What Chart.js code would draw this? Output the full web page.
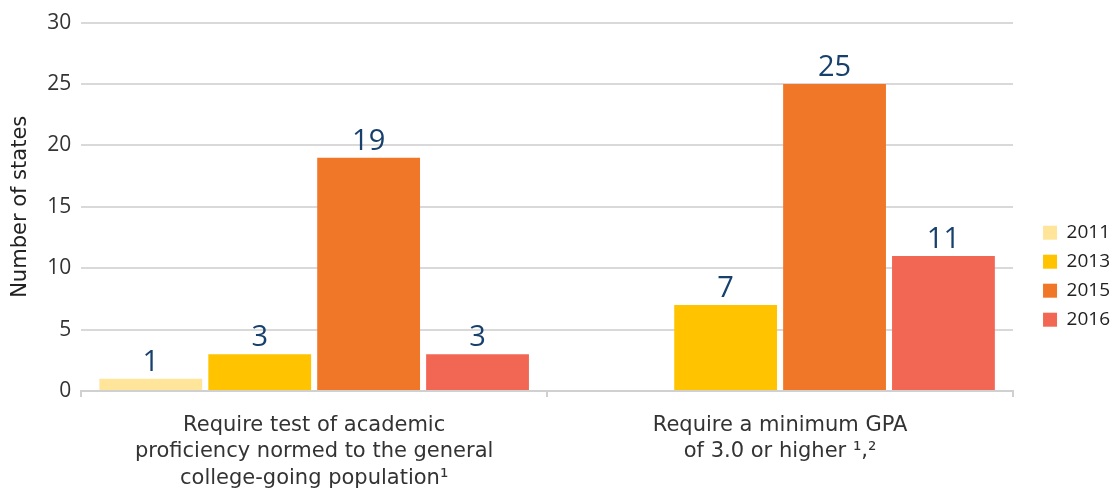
<!DOCTYPE html>
<html>
<head>
<meta charset="utf-8">
<script src="https://cdn.jsdelivr.net/npm/chart.js@4"></script>
<style>
  html, body { margin: 0; padding: 0; background: #fff; }
  #wrap { width: 1120px; height: 492px; }
</style>
</head>
<body>
<div id="wrap"><canvas id="bar-chart"></canvas></div>
<script>
var categories = [
    ['Require test of academic', 'proficiency normed to the general', 'college-going population\u00b9'],
    ['Require a minimum GPA', 'of 3.0 or higher \u00b9,\u00b2']
];
var years = ['2011', '2013', '2015', '2016'];
var values2011 = [1, null];
var values2013 = [3, 7];
var values2015 = [19, 25];
var values2016 = [3, 11];
var yMin = 0, yMax = 30, yStep = 5;

var colors = ['#fee59a', '#ffc300', '#ef7727', '#f26654'];

Chart.defaults.font.family = '"Open Sans", sans-serif';

// numbers above each bar
var valueLabels = {
    id: 'valueLabels',
    afterDatasetsDraw: function(chart) {
        var ctx = chart.ctx;
        ctx.save();
        ctx.fillStyle = '#17406d';
        ctx.font = '29px "Open Sans", sans-serif';
        ctx.textAlign = 'center';
        ctx.textBaseline = 'alphabetic';
        chart.data.datasets.forEach(function(ds, i) {
            chart.getDatasetMeta(i).data.forEach(function(bar, j) {
                if (ds.data[j] == null) return;
                ctx.fillText(ds.data[j], bar.x, bar.y - 8);
            });
        });
        ctx.restore();
    }
};

var seriesValues = [values2011, values2013, values2015, values2016];
var datasets = years.map(function(y, i) {
    return {
        label: y,
        data: seriesValues[i],
        backgroundColor: colors[i],
        borderWidth: 0,
        categoryPercentage: 0.935,
        barPercentage: 0.944
    };
});

var canvas = document.getElementById('bar-chart');
var barChart = new Chart(canvas, {
    type: 'bar',
    data: { labels: categories, datasets: datasets },
    options: {
        responsive: true,
        maintainAspectRatio: false,
        animation: false,
        layout: { padding: { top: 14, left: 2, right: 0, bottom: 0 } },
        plugins: {
            tooltip: { enabled: false },
            legend: {
                position: 'right',
                align: 'start',
                title: { display: true, text: '', font: { size: 1 }, padding: { top: 198, bottom: 0 } },
                labels: {
                    boxWidth: 14,
                    boxHeight: 14,
                    padding: 10,
                    color: '#222',
                    font: { size: 19 }
                }
            }
        },
        scales: {
            x: {
                grid: { display: true, drawOnChartArea: false, tickLength: 6, color: '#d0d0d0', lineWidth: 2, offset: true },
                border: { color: '#d0d0d0', width: 2 },
                ticks: { padding: 15, color: '#333', font: { family: '"DejaVu Sans", sans-serif', size: 21, lineHeight: 1.26 }, maxRotation: 0, autoSkip: false },
                afterFit: function(scale) { scale.height = 101; }
            },
            y: {
                min: yMin,
                max: yMax,
                ticks: { stepSize: yStep, padding: 10, color: '#333', font: { size: 21 } },
                grid: { color: '#d9d9d9', lineWidth: 2, drawTicks: false },
                border: { display: false },
                title: { display: true, text: 'Number of states', color: '#222', font: { family: '"DejaVu Sans", sans-serif', size: 21 }, padding: { top: 6, bottom: 4 } }
            },
            yRight: {
                type: 'linear',
                position: 'right',
                grid: { display: false },
                border: { display: false },
                ticks: { display: false },
                afterFit: function(scale) { scale.width = 20; }
            }
        }
    },
    plugins: [valueLabels]
});
</script>
</body>
</html>
